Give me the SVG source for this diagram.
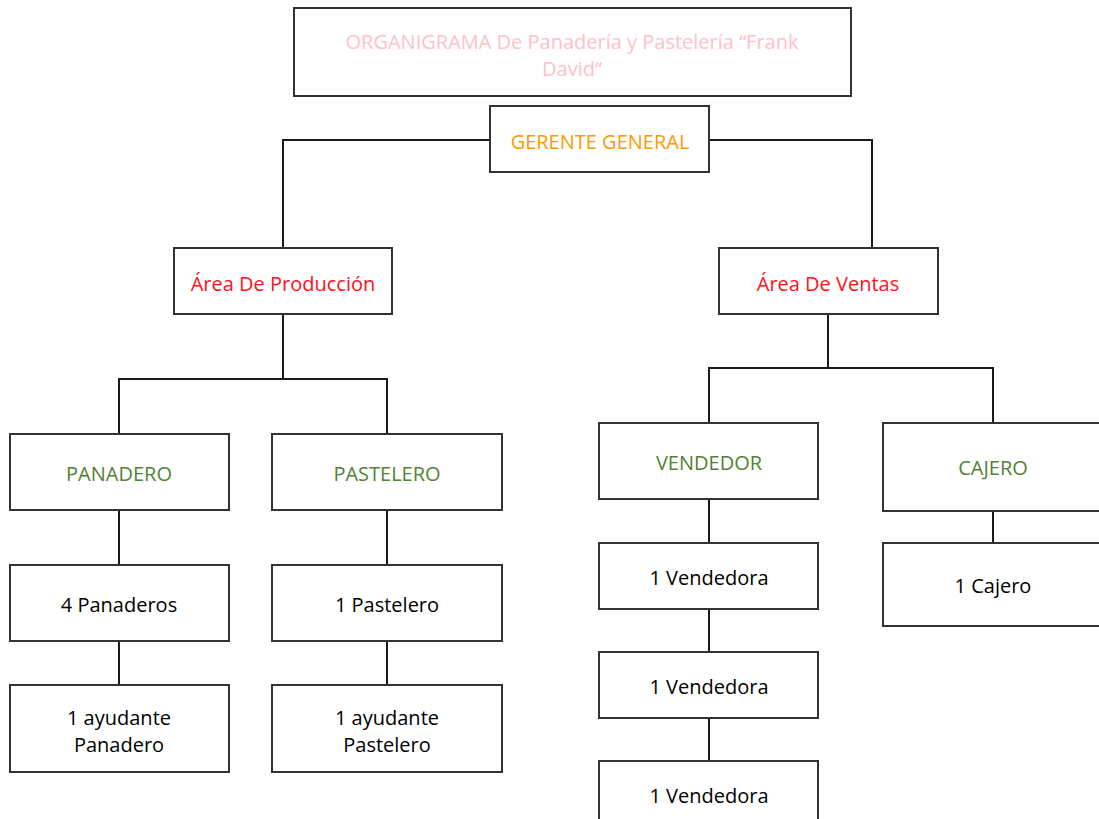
<svg xmlns="http://www.w3.org/2000/svg" width="1099" height="819" viewBox="0 0 1099 819">
<style>
.box{fill:#fff;stroke:#333;stroke-width:2}
.c{fill:none;stroke:#1a1a1a;stroke-width:2}
text{font-family:"Open Sans","Noto Sans","Liberation Sans",sans-serif;font-size:20px;font-weight:500;text-anchor:middle;dominant-baseline:central}
.pink{fill:#ffc0c8}
.orange{fill:#ff9900}
.red{fill:#ff1020}
.green{fill:#538135}
.black{fill:#000}
</style>
<rect width="1099" height="819" fill="#fff"/>
<g id="connectors">
<polyline class="c" points="490,140 283,140 283,248"/>
<polyline class="c" points="709,140 872,140 872,248"/>
<polyline class="c" points="283,314 283,379"/>
<polyline class="c" points="119,434 119,379 387,379 387,434"/>
<line class="c" x1="119" y1="510" x2="119" y2="565"/>
<line class="c" x1="119" y1="641" x2="119" y2="685"/>
<line class="c" x1="387" y1="510" x2="387" y2="565"/>
<line class="c" x1="387" y1="641" x2="387" y2="685"/>
<polyline class="c" points="828,314 828,368"/>
<polyline class="c" points="709,423 709,368 993,368 993,423"/>
<line class="c" x1="709" y1="499" x2="709" y2="543"/>
<line class="c" x1="709" y1="609" x2="709" y2="652"/>
<line class="c" x1="709" y1="718" x2="709" y2="761"/>
<line class="c" x1="993" y1="511" x2="993" y2="543"/>
</g>
<g id="title"><rect class="box" x="294" y="8" width="557" height="88"/><text class="pink" x="572" y="41">ORGANIGRAMA De Panadería y Pastelería “Frank</text><text class="pink" x="572" y="68">David“</text></g>
<g id="gerente"><rect class="box" x="490" y="106" width="219" height="66"/><text class="orange" x="600" y="141">GERENTE GENERAL</text></g>
<g id="produccion"><rect class="box" x="174" y="248" width="218" height="66"/><text class="red" x="283" y="283">Área De Producción</text></g>
<g id="ventas"><rect class="box" x="719" y="248" width="219" height="66"/><text class="red" x="828" y="283">Área De Ventas</text></g>
<g id="panadero"><rect class="box" x="10" y="434" width="219" height="76"/><text class="green" x="119" y="473">PANADERO</text></g>
<g id="pastelero"><rect class="box" x="272" y="434" width="230" height="76"/><text class="green" x="387" y="473">PASTELERO</text></g>
<g id="vendedor"><rect class="box" x="599" y="423" width="219" height="76"/><text class="green" x="709" y="462">VENDEDOR</text></g>
<g id="cajero"><rect class="box" x="883" y="423" width="230" height="88"/><text class="green" x="993" y="467">CAJERO</text></g>
<g id="panaderos4"><rect class="box" x="10" y="565" width="219" height="76"/><text class="black" x="119" y="604">4 Panaderos</text></g>
<g id="ayudante-panadero"><rect class="box" x="10" y="685" width="219" height="87"/><text class="black" x="119" y="717">1 ayudante</text><text class="black" x="119" y="744">Panadero</text></g>
<g id="pastelero1"><rect class="box" x="272" y="565" width="230" height="76"/><text class="black" x="387" y="604">1 Pastelero</text></g>
<g id="ayudante-pastelero"><rect class="box" x="272" y="685" width="230" height="87"/><text class="black" x="387" y="717">1 ayudante</text><text class="black" x="387" y="744">Pastelero</text></g>
<g id="vendedora1"><rect class="box" x="599" y="543" width="219" height="66"/><text class="black" x="709" y="577">1 Vendedora</text></g>
<g id="vendedora2"><rect class="box" x="599" y="652" width="219" height="66"/><text class="black" x="709" y="686">1 Vendedora</text></g>
<g id="vendedora3"><rect class="box" x="599" y="761" width="219" height="70"/><text class="black" x="709" y="795">1 Vendedora</text></g>
<g id="cajero1"><rect class="box" x="883" y="543" width="230" height="83"/><text class="black" x="993" y="585">1 Cajero</text></g>
</svg>
